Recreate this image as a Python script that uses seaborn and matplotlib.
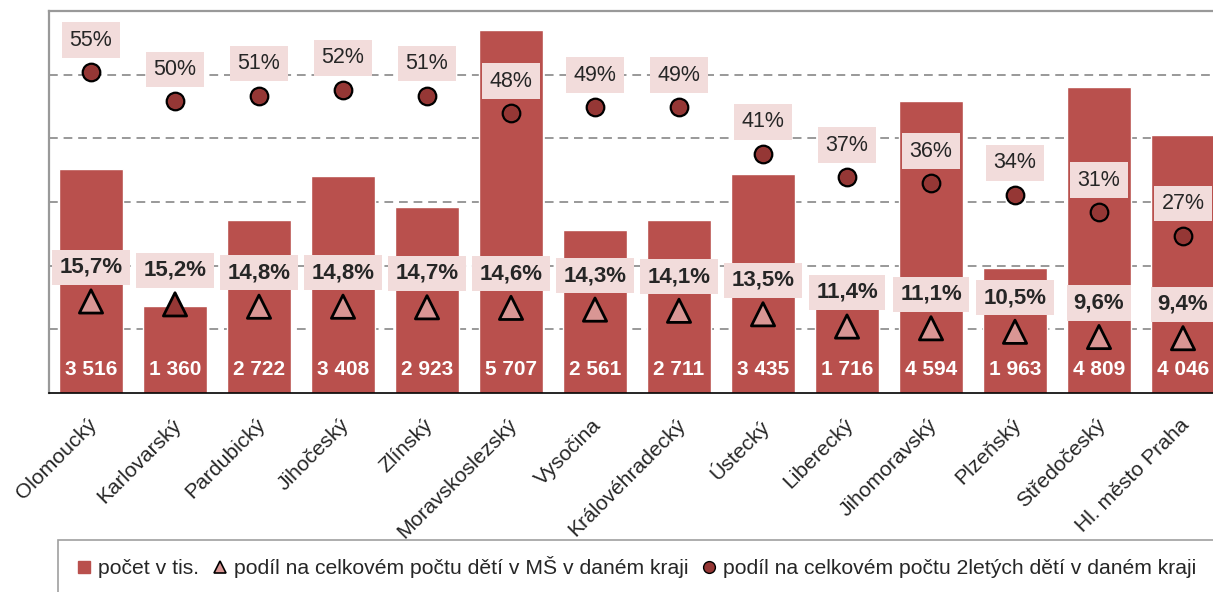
import numpy as np
import pandas as pd
import matplotlib
matplotlib.use('Agg')
import matplotlib.pyplot as plt
import matplotlib.transforms as mtransforms
from matplotlib.lines import Line2D
from matplotlib.patches import Rectangle
import seaborn as sns

regions = ['Olomoucký', 'Karlovarský', 'Pardubický', 'Jihočeský', 'Zlínský',
           'Moravskoslezský', 'Vysočina', 'Královéhradecký', 'Ústecký',
           'Liberecký', 'Jihomoravský', 'Plzeňský', 'Středočeský',
           'Hl. město Praha']
count_k = [3516, 1360, 2722, 3408, 2923, 5707, 2561, 2711, 3435, 1716,
           4594, 1963, 4809, 4046]
share_ms = [15.7, 15.2, 14.8, 14.8, 14.7, 14.6, 14.3, 14.1, 13.5, 11.4,
            11.1, 10.5, 9.6, 9.4]
share_2y = [55, 50, 51, 52, 51, 48, 49, 49, 41, 37, 36, 34, 31, 27]
highlight = [False, True] + [False] * 12

legend_labels = ['počet v tis.',
                 'podíl na celkovém počtu dětí v MŠ v daném kraji',
                 'podíl na celkovém počtu 2letých dětí v daném kraji']

BAR = '#B9504D'
DARK = '#953735'
LIGHT_TRI = '#D99694'
BOX = '#F2DCDB'
GRID = '#999999'

sns.set_style('white')
plt.rcParams['font.family'] = ['Liberation Sans', 'DejaVu Sans']

df = pd.DataFrame({'kraj': regions, 'pocet': count_k,
                   'ms': np.array(share_ms) / 100,
                   'dvoulete': np.array(share_2y) / 100,
                   'hl': highlight})
df['pos'] = np.arange(len(df))

W, H = 1213, 592
fig = plt.figure(figsize=(W / 100, H / 100), dpi=100)
# plot area runs a little past the right edge, like in the source image
ax = fig.add_axes([49 / W, 1 - 393 / H, 1176 / W, 382 / H])

sns.barplot(data=df, x='kraj', y='pocet', color=BAR, saturation=1,
            width=0.77, ax=ax)
ax.set_ylim(0, 6000)
ax.set_xlim(-0.5, len(df) - 0.5)
ax.set_yticks([1000, 2000, 3000, 4000, 5000])
ax.set_yticklabels([])
ax.tick_params(axis='y', length=0)
ax.yaxis.grid(True, color=GRID, linestyle=(0, (4.5, 3)), linewidth=1.4)
ax.set_axisbelow(True)
ax.set_xlabel('')
ax.set_ylabel('')

for side in ['left', 'top']:
    ax.spines[side].set_color(GRID)
    ax.spines[side].set_linewidth(1.6)
ax.spines['right'].set_visible(False)
ax.spines['bottom'].set_color('black')
ax.spines['bottom'].set_linewidth(1.2)

# category ticks between bars, labels at bar centres
ax.set_xticks(np.arange(-0.5, len(df), 1.0), minor=True)
ax.tick_params(axis='x', which='minor', length=6, width=0.9, color='#333333',
               direction='out')
ax.tick_params(axis='x', which='major', length=0, pad=16)
ax.set_xticks(df['pos'])
ax.set_xticklabels(regions, rotation=45, ha='right', fontsize=15.2)
shift = mtransforms.ScaledTranslation(10 / 100, 0, fig.dpi_scale_trans)
for lab in ax.get_xticklabels():
    lab.set_transform(lab.get_transform() + shift)

for p, v in zip(df['pos'], df['pocet']):
    ax.annotate(f'{v:,}'.replace(',', ' '), (p, 0), xytext=(0, 17),
                textcoords='offset points', ha='center', va='center',
                color='white', fontweight='bold', fontsize=15)

ax2 = ax.twinx()
ax2.set_ylim(0, 0.655)
ax2.axis('off')

sns.scatterplot(data=df, x='pos', y='ms', hue='hl',
                palette={False: LIGHT_TRI, True: DARK}, marker='^', s=280,
                edgecolor='black', linewidth=2.0, legend=False, ax=ax2,
                zorder=4)
sns.scatterplot(data=df, x='pos', y='dvoulete', color=DARK, marker='o',
                s=160, edgecolor='black', linewidth=1.6, legend=False,
                ax=ax2, zorder=4)
ax2.set_xlim(-0.5, len(df) - 0.5)

for p, v in zip(df['pos'], share_ms):
    ax2.annotate(f'{v:.1f}%'.replace('.', ','), (p, v / 100), xytext=(0, 24.5),
                 textcoords='offset points', ha='center', va='center',
                 fontweight='bold', fontsize=16, zorder=5,
                 bbox=dict(boxstyle='square,pad=0.32', fc=BOX, ec='none'))
for p, v in zip(df['pos'], share_2y):
    ax2.annotate(f'{v}%', (p, v / 100), xytext=(0, 23),
                 textcoords='offset points', ha='center', va='center',
                 fontsize=15.5, zorder=5,
                 bbox=dict(boxstyle='square,pad=0.34', fc=BOX, ec='none'))

# legend
fig.patches.append(Rectangle((58 / W, -0.02), 1.1, (592 - 540) / H + 0.02,
                             transform=fig.transFigure, fill=False,
                             edgecolor='#A0A0A0', linewidth=1.2))
handles = [
    Line2D([], [], linestyle='none', marker='s', markersize=9,
           markerfacecolor=BAR, markeredgecolor=BAR),
    Line2D([], [], linestyle='none', marker='^', markersize=8.5,
           markerfacecolor=LIGHT_TRI, markeredgecolor='black',
           markeredgewidth=1.2),
    Line2D([], [], linestyle='none', marker='o', markersize=8.5,
           markerfacecolor=DARK, markeredgecolor='black',
           markeredgewidth=1.0),
]
fig.legend(handles, legend_labels, loc='center left',
           bbox_to_anchor=(66 / W, 1 - 567 / H), ncol=3, frameon=False,
           fontsize=15.2, handlelength=0.9, handletextpad=0.2,
           columnspacing=0.55, borderaxespad=0)

fig.savefig('out.png', dpi=100)
